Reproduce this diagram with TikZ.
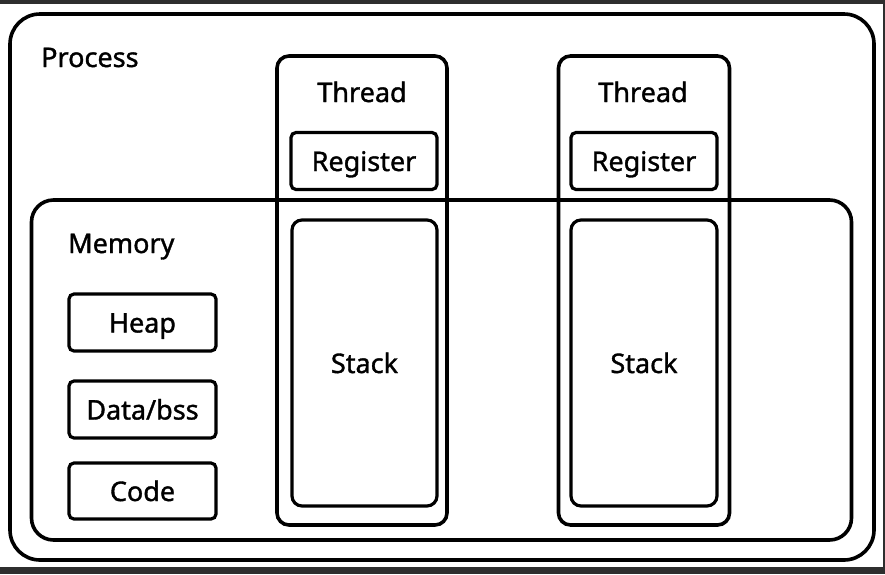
\documentclass[tikz,border=0pt]{standalone}
\usepackage{fontspec}
\setmainfont{Noto Sans}[FakeBold=1.3]
\definecolor{darkbg}{HTML}{2E2E2E}
\begin{document}
\begin{tikzpicture}[x=1pt,y=-1pt,
  frame/.style={draw=black, line width=3.6pt, inner sep=0pt},
  box/.style={draw=black, line width=3.2pt, rounded corners=5pt, inner sep=0pt,
     font=\fontsize{27}{32}\selectfont, text height=20pt, text depth=0pt},
  lbl/.style={font=\fontsize{27}{32}\selectfont, inner sep=0pt, anchor=base}]
\useasboundingbox (0,0) rectangle (885,574);
\fill[darkbg] (0,0) rectangle (885,574);
\fill[white] (0,4) rectangle (883,567);
% process
\node[frame, rounded corners=30pt, minimum width=864pt, minimum height=546pt] (process) at (442,287) {};
\node[lbl, anchor=base west] (ptext) at (41,67) {Process};
% memory
\node[frame, rounded corners=22pt, minimum width=820pt, minimum height=340pt] (memory) at (441.5,370) {};
\node[lbl, anchor=base west] (mtext) at (68,253) {Memory};
% threads
\node[frame, rounded corners=12pt, minimum width=170pt, minimum height=469pt] (t1) at (362,290.5) {};
\node[frame, rounded corners=12pt, minimum width=171pt, minimum height=469pt] (t2) at (644,290.5) {};
\node[lbl] (t1text) at (362,102) {Thread};
\node[lbl] (t2text) at (643,102) {Thread};
% registers
\node[box, minimum width=146pt, minimum height=57pt] (r1) at (364,161) {Register};
\node[box, minimum width=146pt, minimum height=57pt] (r2) at (644,161) {Register};
% stacks
\node[box, rounded corners=10pt, minimum width=145pt, minimum height=286pt] (s1) at (364.5,363) {Stack};
\node[box, rounded corners=10pt, minimum width=146pt, minimum height=286pt] (s2) at (644,363) {Stack};
% memory segments
\node[box, minimum width=147pt, minimum height=57pt] (heap) at (142.5,322.5) {Heap};
\node[box, minimum width=147pt, minimum height=57pt] (data) at (142.5,409.5) {Data/bss};
\node[box, minimum width=147pt, minimum height=56pt] (code) at (142.5,491) {Code};
\end{tikzpicture}
\end{document}
